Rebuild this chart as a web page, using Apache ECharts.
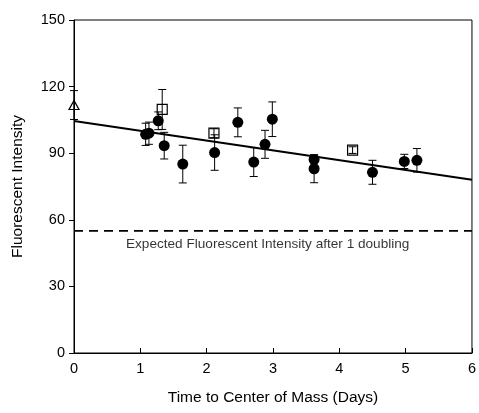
<!DOCTYPE html>
<html>
<head>
<meta charset="utf-8">
<script src="https://cdn.jsdelivr.net/npm/echarts@6/dist/echarts.min.js"></script>
<style>html,body{margin:0;padding:0;background:#fff}#c{width:479px;height:413px}</style>
</head>
<body>
<div id="c"></div>
<script>
var circleX = [1.08, 1.13, 1.27, 1.36, 1.64, 2.12, 2.47, 2.71, 2.88, 2.99, 3.62, 3.62, 4.50, 4.98, 5.17];
var circleY = [98.5, 99.0, 104.6, 93.4, 85.1, 90.3, 103.9, 86.0, 94.0, 105.3, 87.2, 83.0, 81.4, 86.3, 86.8];
var circleErr = [5, 5, 4, 6, 8.5, 8, 6.5, 6.5, 6.3, 7.8, 2, 6.3, 5.4, 3.2, 5.3];
var squareX = [1.33, 2.11, 4.20];
var squareY = [109.7, 99.0, 91.4];
var squareErr = [9, 2, 1.5];
var triangleX = [0];
var triangleY = [111.7];
var triangleErr = [6.5];
var fitX = [0, 6];
var fitY = [104.5, 78];
var expectedY = 55;
var expectedLabel = 'Expected Fluorescent Intensity after 1 doubling';
var xTicks = [0, 1, 2, 3, 4, 5, 6];
var yTicks = [0, 30, 60, 90, 120, 150];

function zip(xs, ys, es) {
  return xs.map(function (x, i) { return es ? [x, ys[i], es[i]] : [x, ys[i]]; });
}
var allErr = zip(circleX, circleY, circleErr).concat(zip(squareX, squareY, squareErr)).concat(zip(triangleX, triangleY, triangleErr));

function renderErr(params, api) {
  var x = api.value(0), y = api.value(1), e = api.value(2);
  var hi = api.coord([x, y + e]);
  var lo = api.coord([x, y - e]);
  var w = 4;
  var st = { stroke: '#000', lineWidth: 1 };
  return {
    type: 'group',
    children: [
      { type: 'line', shape: { x1: hi[0], y1: hi[1], x2: lo[0], y2: lo[1] }, style: st },
      { type: 'line', shape: { x1: hi[0] - w, y1: hi[1], x2: hi[0] + w, y2: hi[1] }, style: st },
      { type: 'line', shape: { x1: lo[0] - w, y1: lo[1], x2: lo[0] + w, y2: lo[1] }, style: st }
    ]
  };
}

var font = '"Liberation Sans", Arial, sans-serif';
var chart = echarts.init(document.getElementById('c'), null, { renderer: 'canvas' });
chart.setOption({
  animation: false,
  backgroundColor: '#fff',
  grid: { left: 74, right: 6, top: 20, bottom: 60, show: true, borderColor: '#000', borderWidth: 1, backgroundColor: 'transparent' },
  xAxis: {
    type: 'value', min: xTicks[0], max: xTicks[xTicks.length - 1], interval: 1,
    name: 'Time to Center of Mass (Days)', nameLocation: 'middle', nameGap: 37,
    nameTextStyle: { fontFamily: font, fontSize: 15.5, color: '#000' },
    axisLine: { lineStyle: { color: '#000', width: 1 } },
    axisTick: { inside: true, length: 5, lineStyle: { color: '#000' } },
    axisLabel: { fontFamily: font, fontSize: 14.5, color: '#000', margin: 8 },
    splitLine: { show: false }
  },
  yAxis: {
    type: 'value', min: yTicks[0], max: yTicks[yTicks.length - 1], interval: 30,
    name: 'Fluorescent Intensity', nameLocation: 'middle', nameGap: 48,
    nameTextStyle: { fontFamily: font, fontSize: 15.5, color: '#000' },
    axisLine: { show: true, lineStyle: { color: '#000', width: 1 } },
    axisTick: { show: true, inside: false, length: 5, lineStyle: { color: '#000' } },
    axisLabel: { fontFamily: font, fontSize: 14.5, color: '#000', margin: 9 },
    splitLine: { show: false }
  },
  series: [
    {
      type: 'line', data: [[fitX[0], expectedY], [fitX[1], expectedY]], symbol: 'none',
      lineStyle: { color: '#000', width: 1.6, type: [9, 6] }, z: 1
    },
    {
      type: 'scatter', data: [[2.92, expectedY - 6]], symbolSize: 0,
      label: { show: true, position: 'inside', formatter: expectedLabel, fontFamily: font, fontSize: 13.6, color: '#000' }, z: 1
    },
    {
      type: 'line', data: zip(fitX, fitY), symbol: 'none',
      lineStyle: { color: '#000', width: 2 }, z: 2
    },
    { type: 'custom', renderItem: renderErr, data: allErr, encode: { x: 0, y: 1 }, z: 3 },
    {
      type: 'scatter', data: zip(circleX, circleY), symbol: 'circle', symbolSize: 11,
      itemStyle: { color: '#000', opacity: 1 }, z: 4
    },
    {
      type: 'scatter', data: zip(squareX, squareY), symbol: 'rect', symbolSize: 10,
      itemStyle: { color: 'rgba(255,255,255,0)', borderColor: '#000', borderWidth: 1.2, opacity: 1 }, z: 4
    },
    {
      type: 'scatter', data: zip(triangleX, triangleY), symbol: 'triangle', symbolSize: [10, 9],
      itemStyle: { color: 'rgba(255,255,255,0)', borderColor: '#000', borderWidth: 1.2, opacity: 1 }, z: 4
    }
  ]
});
</script>
</body>
</html>
